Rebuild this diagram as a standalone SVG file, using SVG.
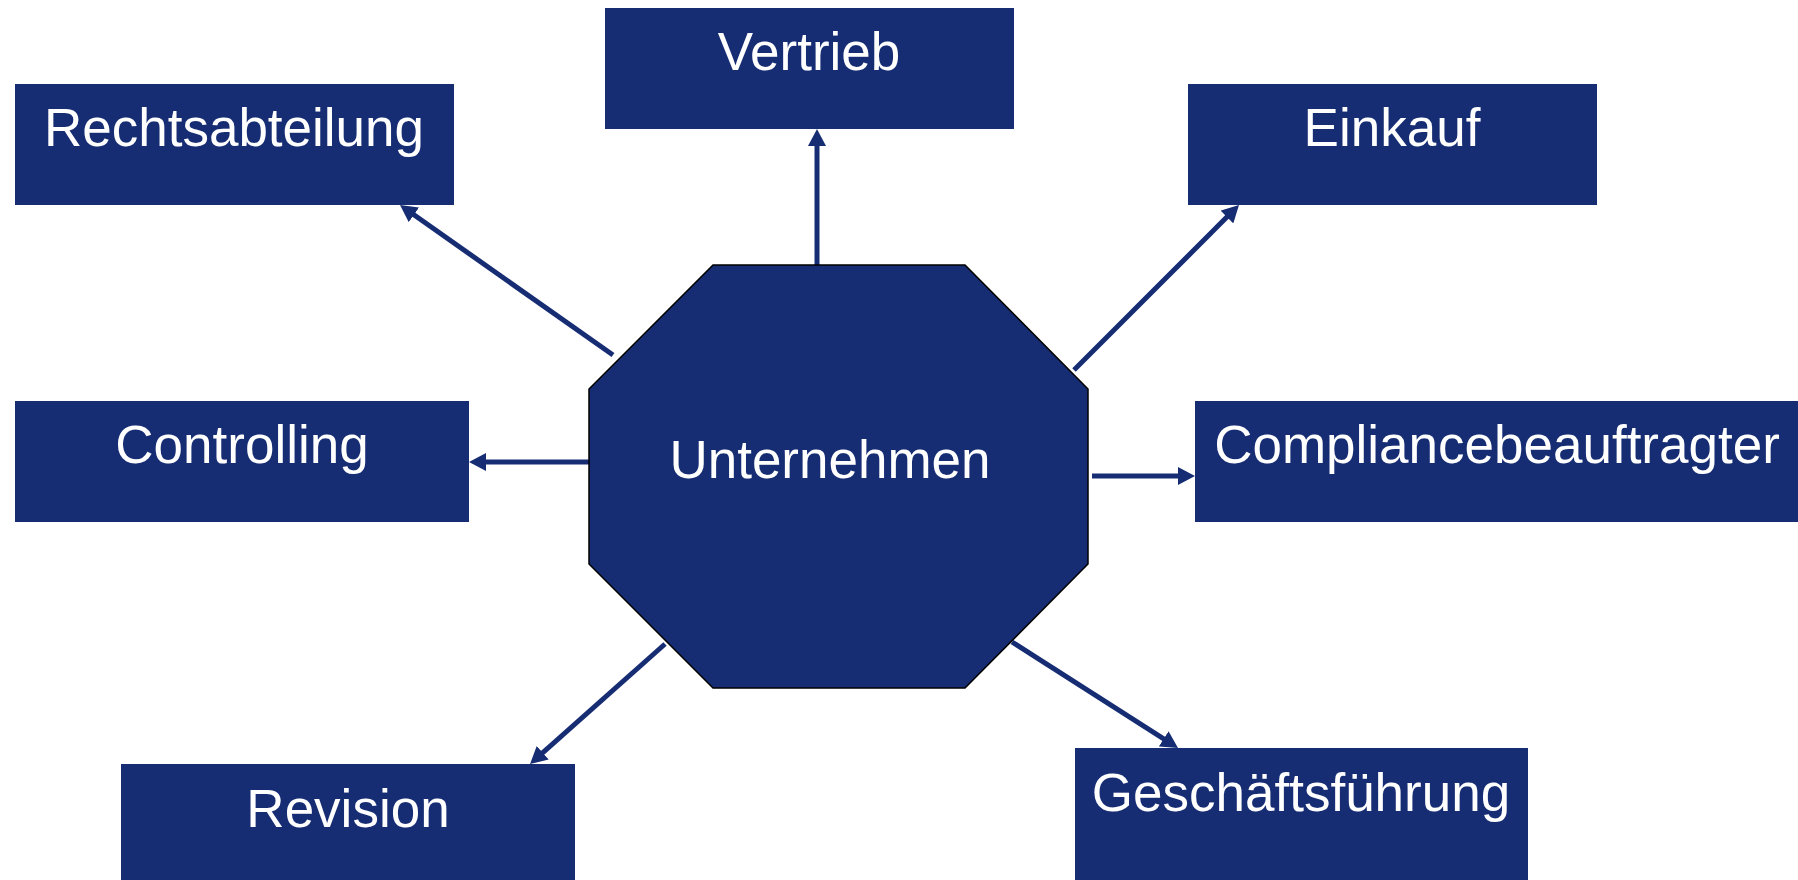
<svg xmlns="http://www.w3.org/2000/svg" width="1798" height="880" viewBox="0 0 1798 880">
<style>
.box{fill:#162D73;}
.oct{fill:#162D73;stroke:#000000;stroke-width:1.5;}
.lbl{font-family:"Liberation Sans",Arial,sans-serif;font-size:53px;fill:#FFFFFF;text-anchor:middle;}
.con{stroke:#162D73;stroke-width:5;fill:none;marker-end:url(#arr);}
</style>
<defs>
<marker id="arr" markerUnits="userSpaceOnUse" markerWidth="18" markerHeight="18" refX="7" refY="9" orient="auto">
<path d="M0,0 L17,9 L0,18 z" fill="#162D73"/>
</marker>
</defs>
<rect width="1798" height="880" fill="#FFFFFF"/>
<g id="connectors">
<line class="con" x1="817" y1="265" x2="817" y2="139"/>
<line class="con" x1="613" y1="355" x2="408.2" y2="210.8"/>
<line class="con" x1="1074" y1="370" x2="1231.9" y2="212.1"/>
<line class="con" x1="589" y1="462" x2="479" y2="462"/>
<line class="con" x1="1092" y1="476" x2="1185" y2="476"/>
<line class="con" x1="665" y1="644" x2="537.5" y2="757.4"/>
<line class="con" x1="1012" y1="642" x2="1169.6" y2="742.6"/>
</g>
<g id="unternehmen">
<polygon class="oct" points="713,265 965,265 1088,389 1088,564 965,688 713,688 589,564 589,389"/>
<text class="lbl" x="830" y="478">Unternehmen</text>
</g>
<g id="vertrieb">
<rect class="box" x="605" y="8" width="409" height="121"/>
<text class="lbl" x="809" y="70">Vertrieb</text>
</g>
<g id="rechtsabteilung">
<rect class="box" x="15" y="84" width="439" height="121"/>
<text class="lbl" x="234" y="146">Rechtsabteilung</text>
</g>
<g id="einkauf">
<rect class="box" x="1188" y="84" width="409" height="121"/>
<text class="lbl" x="1392" y="146">Einkauf</text>
</g>
<g id="controlling">
<rect class="box" x="15" y="401" width="454" height="121"/>
<text class="lbl" x="242" y="463">Controlling</text>
</g>
<g id="compliancebeauftragter">
<rect class="box" x="1195" y="401" width="603" height="121"/>
<text class="lbl" x="1497" y="463">Compliancebeauftragter</text>
</g>
<g id="revision">
<rect class="box" x="121" y="764" width="454" height="116"/>
<text class="lbl" x="348" y="827">Revision</text>
</g>
<g id="geschaeftsfuehrung">
<rect class="box" x="1075" y="748" width="453" height="132"/>
<text class="lbl" x="1301" y="811">Geschäftsführung</text>
</g>
</svg>
